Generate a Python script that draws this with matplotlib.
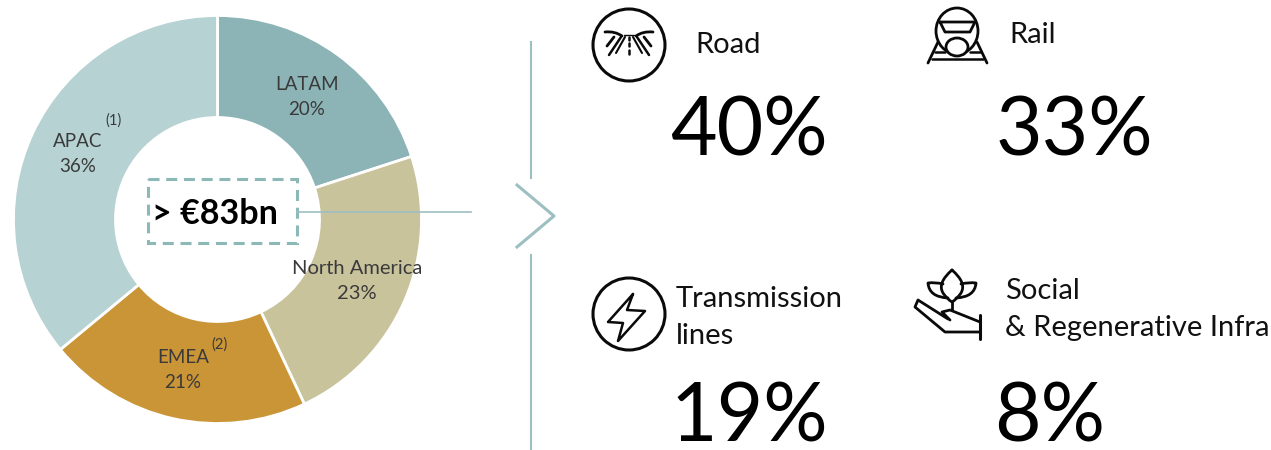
import matplotlib
matplotlib.use('Agg')
import matplotlib.pyplot as plt
import matplotlib.patches as mpatches
from matplotlib.path import Path

plt.rcParams['font.family'] = ['Lato', 'DejaVu Sans']

regions = ['LATAM', 'North America', 'EMEA', 'APAC']
region_share = [20, 23, 21, 36]
region_colors = ['#8CB4B6', '#C9C39C', '#CA9536', '#B6D2D3']
total_label = '> €83bn'

sectors = ['Road', 'Rail', 'Transmission\nlines', 'Social\n& Regenerative Infra']
sector_share = [40, 33, 19, 8]

LINE = '#9DBFC2'
DASH = '#8CB8B8'
INK = '#0A0A0A'

fig = plt.figure(figsize=(12.71, 4.5), dpi=100)

# pixel-space layer for the separators, callout and icons
bg = fig.add_axes([0, 0, 1, 1])
bg.set_xlim(0, 1271)
bg.set_ylim(450, 0)
bg.axis('off')

# donut
cx, cy, r = 217.5, 219.5, 204
ax = fig.add_axes([(cx - r) / 1271, 1 - (cy + r) / 450, 2 * r / 1271, 2 * r / 450])
ax.pie(region_share, colors=region_colors, startangle=90, counterclock=False, radius=1,
       wedgeprops=dict(width=0.5, edgecolor='white', linewidth=2))
ax.set_xlim(-1, 1)
ax.set_ylim(-1, 1)
ax.set_zorder(0)
bg.set_zorder(1)
bg.patch.set_alpha(0)

label_pos = [(307, 97), (357, 281), (183, 370), (78, 154)]
label_size = [13.5, 14.5, 13.5, 13.5]
for name, val, (x, y), fs in zip(regions, region_share, label_pos, label_size):
    bg.text(x, y, name + '\n' + str(val) + '%', ha='center', va='center', fontsize=fs,
            color='#3A3A3A', linespacing=1.6)
bg.text(220, 345, '(2)', ha='center', va='center', fontsize=10.5, color='#3A3A3A')
bg.text(114, 121, '(1)', ha='center', va='center', fontsize=10.5, color='#3A3A3A')

# total callout
bg.add_patch(mpatches.Rectangle((148, 179), 149, 64, fill=False, edgecolor=DASH, linewidth=2.2,
                                linestyle=(0, (3.6, 2.2))))
bg.text(215, 214, total_label, ha='center', va='center', fontsize=24.5, fontweight='bold', color='black')
bg.plot([297, 471], [212, 212], color=LINE, lw=1.2)

# separator and chevron
bg.plot([531, 531], [42, 178], color=LINE, lw=1.5)
bg.plot([531, 531], [255, 450], color=LINE, lw=1.5)
bg.plot([517, 554, 517], [185, 216, 247], color=LINE, lw=2.2)

# sector headings and values
sector_text = [(695, 45, 21), (1009, 35, 21), (676, 317.5, 21), (1005, 309.5, 21)]
value_pos = [(749, 132), (1074, 132), (749, 419), (1050, 419)]
for name, (x, y, fs) in zip(sectors, sector_text):
    bg.text(x, y, name, ha='left', va='center', fontsize=fs, color='#111111', linespacing=1.52)
for val, (x, y) in zip(sector_share, value_pos):
    bg.text(x, y, str(val) + '%', ha='center', va='center', fontsize=58, color='black')


def stroke(xs, ys, lw=2.0):
    bg.plot(xs, ys, color=INK, lw=lw, solid_capstyle='round', solid_joinstyle='round', zorder=4)


def curve(verts, lw=2.0):
    # verts alternate on-curve and control points: start, ctrl, end, ctrl, end ...
    codes = [Path.MOVETO] + [Path.CURVE3] * (len(verts) - 1)
    bg.add_patch(mpatches.PathPatch(Path(verts, codes), fill=False, edgecolor=INK, lw=lw,
                                    capstyle='round', joinstyle='round', zorder=4))


# road icon
bg.add_patch(mpatches.Circle((629, 45), 36, fill=False, edgecolor=INK, lw=2.2))
for sign in (-1, 1):
    curve([(629 + sign * 24, 32), (629 + sign * 14, 31), (629 + sign * 7, 36)], lw=2)
    stroke([629 + sign * 15, 629 + sign * 22], [37, 46], lw=2)
    stroke([629 + sign * 8, 629 + sign * 20], [37, 55], lw=1.8)
    stroke([629 + sign * 4, 629 + sign * 13], [37, 53], lw=1.5)
stroke([624, 634], [35, 35], lw=1)
for y0, y1 in [(37, 40), (43, 46), (50, 54)]:
    stroke([629, 629], [y0, y1], lw=1.8)

# rail icon
bg.add_patch(mpatches.Ellipse((957, 31), 42, 46, fill=False, edgecolor=INK, lw=2))
stroke([940, 975, 970, 945, 940], [22, 22, 32, 32, 22], lw=2)
stroke([938, 928], [42, 63], lw=2)
stroke([977, 987], [42, 63], lw=2)
stroke([935, 945], [52, 52], lw=1.8)
stroke([970, 980], [52, 52], lw=1.8)
stroke([932, 983], [59, 59], lw=1.8)
bg.add_patch(mpatches.Ellipse((957, 47), 22, 18, facecolor='white', edgecolor=INK, lw=2, zorder=5))

# lightning icon
bg.add_patch(mpatches.Circle((629, 314), 36, fill=False, edgecolor=INK, lw=2.2))
stroke([633, 608, 623, 618, 645, 627, 633], [294, 322, 323, 341, 311, 310, 294], lw=1.8)

# plant in a hand icon
curve([(952, 270), (937, 283), (943, 293), (947, 299), (952, 302), (957, 299), (961, 293),
       (967, 283), (952, 270)], lw=2)
curve([(943, 284), (935, 282), (928, 283), (929, 297), (948, 298)], lw=2)
curve([(961, 284), (969, 282), (976, 283), (975, 297), (956, 298)], lw=2)
stroke([952, 952], [302, 310], lw=2)
stroke([980, 980], [315, 339], lw=2.2)
stroke([980, 950, 942, 950], [322, 310, 312, 320], lw=2)
stroke([948, 918, 915, 945, 980], [319, 300, 307, 332, 332], lw=2)

fig.savefig('out.png', dpi=100)
